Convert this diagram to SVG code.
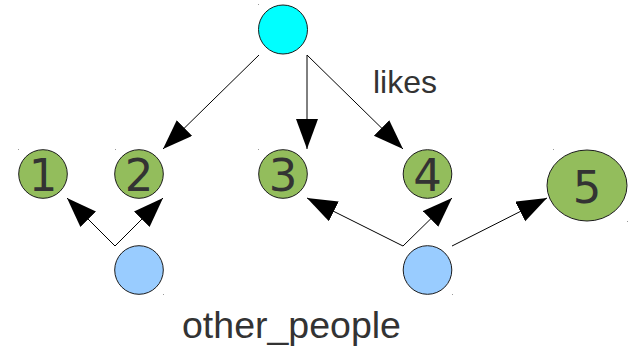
<svg xmlns="http://www.w3.org/2000/svg" width="629" height="347" viewBox="0 0 629 347">
  <style>
    .item { fill: #93bd5c; stroke: #1c1c1c; stroke-width: 1; }
    .person { fill: #99ccff; stroke: #1c1c1c; stroke-width: 1; }
    .me { fill: #00ffff; stroke: #1c1c1c; stroke-width: 1; }
    .num { font-family: "DejaVu Sans", sans-serif; font-size: 45px; fill: #333333; text-anchor: middle; }
    .label { font-family: "Liberation Sans", Arial, sans-serif; fill: #333333; }
    .edge { stroke: #000000; stroke-width: 1; fill: none; marker-end: url(#head); }
    .dot { fill: #9a9a9a; }
  </style>
  <defs>
    <marker id="head" markerUnits="userSpaceOnUse" markerWidth="32" markerHeight="24" refX="30" refY="11" orient="auto">
      <path d="M0,0 L30,11 L0,22 Z" fill="#000000"/>
    </marker>
  </defs>
  <rect width="629" height="347" fill="#ffffff"/>

  <!-- connectors -->
  <g id="edges">
    <line class="edge" x1="259" y1="55" x2="163" y2="149"/>
    <line class="edge" x1="307" y1="55" x2="307" y2="149"/>
    <line class="edge" x1="307" y1="55" x2="403" y2="149"/>
    <line class="edge" x1="115" y1="246" x2="67" y2="198"/>
    <line class="edge" x1="115" y1="246" x2="163" y2="198"/>
    <line class="edge" x1="403" y1="246" x2="307" y2="198"/>
    <line class="edge" x1="403" y1="246" x2="452" y2="198"/>
    <line class="edge" x1="452" y1="246" x2="547" y2="198"/>
  </g>

  <g id="me">
    <circle class="me" cx="283" cy="29.5" r="24.5"/>
    <rect class="dot" x="258" y="4" width="1" height="1"/>
  </g>

  <g id="item1">
    <circle class="item" cx="43" cy="174" r="24.3"/>
    <text class="num" x="43" y="191">1</text>
    <rect class="dot" x="18" y="149" width="1" height="1"/>
  </g>
  <g id="item2">
    <circle class="item" cx="139" cy="174" r="24.3"/>
    <text class="num" x="139" y="191">2</text>
    <rect class="dot" x="115" y="149" width="1" height="1"/>
  </g>
  <g id="item3">
    <circle class="item" cx="283" cy="174" r="24.3"/>
    <text class="num" x="283" y="191">3</text>
    <rect class="dot" x="258" y="149" width="1" height="1"/>
  </g>
  <g id="item4">
    <circle class="item" cx="427.5" cy="174" r="24.3"/>
    <text class="num" x="427.5" y="191">4</text>
  </g>
  <g id="item5">
    <ellipse class="item" cx="587" cy="185.5" rx="40" ry="35.5"/>
    <text class="num" x="587" y="203">5</text>
    <rect class="dot" x="553" y="149" width="1" height="1"/>
    <rect class="dot" x="627" y="221" width="1" height="1"/>
  </g>

  <g id="person1">
    <circle class="person" cx="139" cy="270" r="24.3"/>
    <rect class="dot" x="163" y="294" width="1" height="1"/>
  </g>
  <g id="person2">
    <circle class="person" cx="427.5" cy="270" r="24.3"/>
    <rect class="dot" x="452" y="294" width="1" height="1"/>
  </g>

  <text class="label" x="373" y="93" font-size="32">likes</text>
  <text class="label" x="182" y="338" font-size="37.5">other_people</text>
</svg>
